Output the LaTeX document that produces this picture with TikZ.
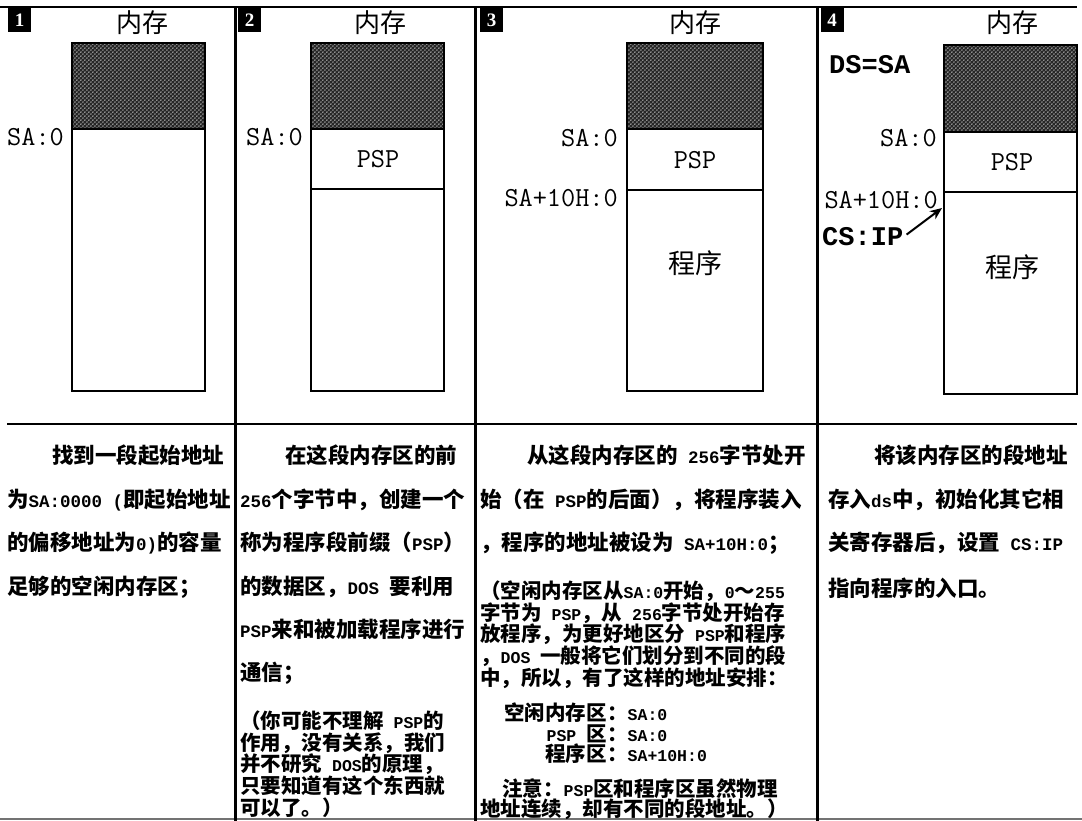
\documentclass[tikz,border=0pt]{standalone}
\usepackage{fontspec}
\setmainfont{Liberation Serif}
\newfontfamily\cjk{Noto Sans CJK SC}
\newfontfamily\mn{Liberation Mono}
\usetikzlibrary{patterns.meta,arrows.meta}
\newcommand\tm[1]{{\mn\fontsize{17.5}{17.5}\selectfont #1}}
\newcommand\tn[1]{{\mn\fontsize{16.5}{16.5}\selectfont #1}}
\tikzdeclarepattern{name=memdots,type=uncolored,
  bounding box={(0pt,0pt) and (4.4pt,4.4pt)},tile size={(4.4pt,4.4pt)},
  code={\fill (1.1pt,1.1pt) circle (0.8pt); \fill (3.3pt,3.3pt) circle (0.8pt);}}
\tikzset{
  body/.style={anchor=base west,inner sep=0pt,font=\cjk\bfseries\fontsize{21.5}{21.5}\selectfont},
  note/.style={anchor=base west,inner sep=0pt,font=\cjk\bfseries\fontsize{20.5}{20.5}\selectfont},
  noteE/.style={anchor=base east,inner sep=0pt,font=\cjk\bfseries\fontsize{20.5}{20.5}\selectfont},
  title/.style={inner sep=0pt,font=\cjk\fontsize{26}{26}\selectfont},
  big/.style={inner sep=0pt,font=\cjk\fontsize{27}{27}\selectfont},
  lab/.style={inner sep=0pt,font=\ttfamily\fontsize{27.5}{27.5}\selectfont},
  blab/.style={inner sep=0pt,font=\mn\bfseries\fontsize{27}{27}\selectfont},
  numbox/.style={fill=black,text=white,minimum width=23pt,minimum height=24pt,inner sep=0pt,
    font=\bfseries\fontsize{19}{19}\selectfont},
  membox/.style={draw=black,line width=1.6pt},
  hatch/.style={fill=black!85,postaction={pattern=memdots,pattern color=white}},
  rule/.style={draw=black,line width=1.6pt},
  divider/.style={draw=black,line width=3pt},
}
\begin{document}
\begin{tikzpicture}[x=1pt,y=-1pt]
\fill[white] (0,0) rectangle (1082,821);
\useasboundingbox (0,0) rectangle (1082,821);
% frame lines
\draw[rule] (0,7) -- (1077,7);
\draw[rule] (7,424) -- (1077,424);
\draw[draw=black!55,line width=2pt] (0,819) -- (1082,819);
\draw[divider] (235,7) -- (235,821);
\draw[divider] (475,7) -- (475,821);
\draw[divider] (817,7) -- (817,821);
% number boxes
\node[numbox] (n1) at (19.5,20) {1};
\node[numbox] (n2) at (249.5,20) {2};
\node[numbox] (n3) at (491.5,20) {3};
\node[numbox] (n4) at (832,20.5) {4};
% titles
\node[title] (t1) at (142,23) {内存};
\node[title] (t2) at (380,23) {内存};
\node[title] (t3) at (695,23) {内存};
\node[title] (t4) at (1012,23) {内存};
% panel 1 memory
\fill[hatch] (72,43) rectangle (205,129);
\draw[membox] (72,43) rectangle (205,391);
\draw[membox] (72,129) -- (205,129);
\node[lab,anchor=west] (sa1) at (7,137) {SA:0};
% panel 2 memory
\fill[hatch] (311,43) rectangle (444,129);
\draw[membox] (311,43) rectangle (444,391);
\draw[membox] (311,129) -- (444,129);
\draw[membox] (311,189) -- (444,189);
\node[lab,anchor=west] (sa2) at (246,137) {SA:0};
\node[lab] (psp2) at (378,159) {PSP};
% panel 3 memory
\fill[hatch] (627,43) rectangle (763,129);
\draw[membox] (627,43) rectangle (763,391);
\draw[membox] (627,129) -- (763,129);
\draw[membox] (627,190) -- (763,190);
\node[lab,anchor=east] (sa3) at (618,138) {SA:0};
\node[lab,anchor=east] (sb3) at (618,198) {SA+10H:0};
\node[lab] (psp3) at (695,160) {PSP};
\node[big] (prg3) at (695,263) {程序};
% panel 4 memory
\fill[hatch] (944,45) rectangle (1077,132);
\draw[membox] (944,45) rectangle (1077,394);
\draw[membox] (944,132) -- (1077,132);
\draw[membox] (944,192) -- (1077,192);
\node[blab,anchor=west] (ds4) at (829,65) {DS=SA};
\node[lab,anchor=east] (sa4) at (937,138) {SA:0};
\node[lab,anchor=east] (sb4) at (938,200) {SA+10H:0};
\node[blab,anchor=west] (cs4) at (822,237) {CS:IP};
\node[lab] (psp4) at (1012,162) {PSP};
\node[big] (prg4) at (1012,267) {程序};
\coordinate (tip) at (942,208);
\draw[line width=2pt,-{Stealth[length=12pt,width=10pt]},shorten <=4pt] (cs4.east) -- (tip);
% panel 1 text
\node[body] (p1a) at (52,463) {找到一段起始地址};
\node[body] (p1b) at (7,507) {为\tm{SA:0000 (}即起始地址};
\node[body] (p1c) at (7,550) {的偏移地址为\tm{0)}的容量};
\node[body] (p1d) at (7,594) {足够的空闲内存区；};
% panel 2 text
\node[body] (p2a) at (285,463) {在这段内存区的前};
\node[body] (p2b) at (240,507) {\tm{256}个字节中，创建一个};
\node[body] (p2c) at (240,550) {称为程序段前缀（\tm{PSP}）};
\node[body] (p2d) at (240,594) {的数据区，\tm{DOS }要利用};
\node[body] (p2e) at (240,637) {\tm{PSP}来和被加载程序进行};
\node[body] (p2f) at (240,680) {通信；};
\node[note] (p2g) at (240,728) {（你可能不理解\tn{ PSP}的};
\node[note] (p2h) at (240,750) {作用，没有关系，我们};
\node[note] (p2i) at (240,771) {并不研究\tn{ DOS}的原理，};
\node[note] (p2j) at (240,793) {只要知道有这个东西就};
\node[note] (p2k) at (240,815) {可以了。）};
% panel 3 text
\node[body] (p3a) at (527,463) {从这段内存区的\tm{ 256}字节处开};
\node[body] (p3b) at (480,507) {始（在\tm{ PSP}的后面），将程序装入};
\node[body] (p3c) at (480,550) {，程序的地址被设为\tm{ SA+10H:0}；};
\node[note] (p3d) at (480,598) {（空闲内存区从\tn{SA:0}开始，\tn{0}～\tn{255}};
\node[note] (p3e) at (480,620) {字节为\tn{ PSP}，从\tn{ 256}字节处开始存};
\node[note] (p3f) at (480,641) {放程序，为更好地区分\tn{ PSP}和程序};
\node[note] (p3g) at (480,663) {，\tn{DOS }一般将它们划分到不同的段};
\node[note] (p3h) at (480,685) {中，所以，有了这样的地址安排：};
\node[noteE] (p3i) at (607,720) {空闲内存区};
\node[note] (p3i2) at (607,720) {：\tn{SA:0}};
\node[noteE] (p3j) at (607,741) {\tn{PSP }区};
\node[note] (p3j2) at (607,741) {：\tn{SA:0}};
\node[noteE] (p3k) at (607,761) {程序区};
\node[note] (p3k2) at (607,761) {：\tn{SA+10H:0}};
\node[note] (p3l) at (502,796) {注意：\tn{PSP}区和程序区虽然物理};
\node[note] (p3m) at (480,816) {地址连续，却有不同的段地址。）};
% panel 4 text
\node[body] (p4a) at (874,463) {将该内存区的段地址};
\node[body] (p4b) at (828,507) {存入\tm{ds}中，初始化其它相};
\node[body] (p4c) at (828,550) {关寄存器后，设置\tm{ CS:IP}};
\node[body] (p4d) at (828,596) {指向程序的入口。};
\end{tikzpicture}
\end{document}
